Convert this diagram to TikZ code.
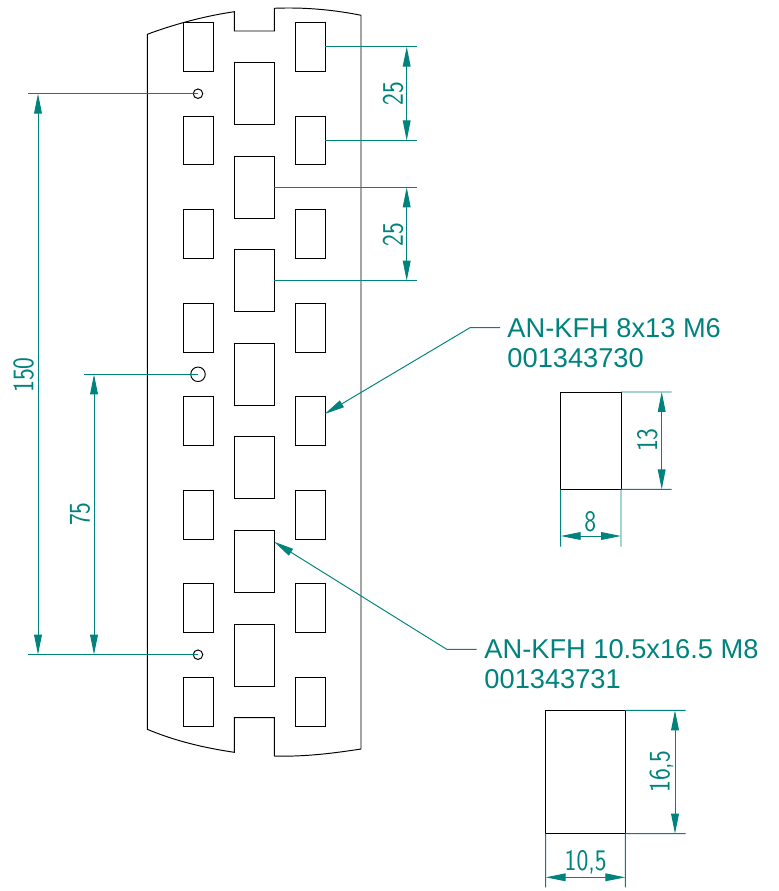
\documentclass[tikz,border=0pt]{standalone}
\usepackage{xcolor}
\usepackage{fontspec}
\usetikzlibrary{arrows.meta}
\setmainfont{Liberation Sans}
\newfontfamily\dimfont[FakeStretch=0.84]{Latin Modern Sans}
\definecolor{dimteal}{RGB}{0,130,125}

\begin{document}
\begin{tikzpicture}[x = 0.02cm, y = -0.02cm, line width = 0.55pt, >={Triangle[length=0.4cm,width=0.155cm]},
    sidehole/.style = {draw, inner sep=0, outer sep=0, minimum width = 0.6cm, minimum height = 0.976cm},
    midhole/.style = {draw, inner sep=0, outer sep=0, minimum width = 0.8cm, minimum height = 1.24cm},
    pin/.style = {draw, circle, inner sep=0, outer sep=0, minimum size = 0.19cm},
    bigpin/.style = {draw, circle, inner sep=0, outer sep=0, minimum size = 0.29cm},
    extline/.style = {draw=dimteal, line width = 0.55pt},
    dimline/.style = {draw=dimteal, line width = 0.55pt, <->},
    dimtext/.style = {text=dimteal, inner sep=0, font = \dimfont\fontsize{17}{17}\selectfont},
    labeltext/.style = {text=dimteal, inner sep=0, anchor=base west, font = \fontsize{15.5}{17}\selectfont}]
  \useasboundingbox (0,0) rectangle (778,891);

  %%% rail outline %%%
  \draw (147.3,729.3) -- (147.3,34.3) .. controls (175,24) and (205,16) .. (234.3,11.7)
    -- (234.3,31) -- (274.3,31) -- (274.3,8.3) .. controls (305,7) and (335,10) .. (361,15.3)
    -- (361,749) .. controls (335,753) and (305,757) .. (274.3,756)
    -- (274.3,717.7) -- (234.3,717.7) -- (234.3,752.3)
    .. controls (205,748) and (175,741) .. (147.3,729.3);

  %%% holes %%%
  % left column
  \node[sidehole] (l1) at (198.3,46.7) {};
  \node[sidehole] (l2) at (198.3,140.4) {};
  \node[sidehole] (l3) at (198.3,234.1) {};
  \node[sidehole] (l4) at (198.3,327.7) {};
  \node[sidehole] (l5) at (198.3,421.1) {};
  \node[sidehole] (l6) at (198.3,514.7) {};
  \node[sidehole] (l7) at (198.3,608.2) {};
  \node[sidehole] (l8) at (198.3,702) {};
  % middle column
  \node[midhole] (m1) at (254.3,93.3) {};
  \node[midhole] (m2) at (254.3,187.4) {};
  \node[midhole] (m3) at (254.3,280.7) {};
  \node[midhole] (m4) at (254.3,374.3) {};
  \node[midhole] (m5) at (254.3,467.7) {};
  \node[midhole] (m6) at (254.3,561.3) {};
  \node[midhole] (m7) at (254.3,655.2) {};
  % right column
  \node[sidehole] (r1) at (310.3,46.7) {};
  \node[sidehole] (r2) at (310.3,140.4) {};
  \node[sidehole] (r3) at (310.3,234.1) {};
  \node[sidehole] (r4) at (310.3,327.7) {};
  \node[sidehole] (r5) at (310.3,421.1) {};
  \node[sidehole] (r6) at (310.3,514.7) {};
  \node[sidehole] (r7) at (310.3,608.2) {};
  \node[sidehole] (r8) at (310.3,702) {};
  % pins
  \node[pin] (p1) at (198,93.7) {};
  \node[bigpin] (p2) at (198,374.3) {};
  \node[pin] (p3) at (198,654.7) {};

  %%% pitch dimensions %%%
  % upper 25
  \coordinate (a1) at (416.7,46.7);
  \coordinate (a2) at (416.7,140.4);
  \coordinate (a3) at (406.7,46.7);
  \coordinate (a4) at (406.7,140.4);
  \draw[extline] (r1.east) -- (a1);
  \draw[extline] (r2.east) -- (a2);
  \draw[dimline] (a3) -- (a4);
  \node[dimtext, rotate=90] (t25a) at (393,93.5) {25};
  % lower 25
  \coordinate (b1) at (416.7,187.4);
  \coordinate (b2) at (416.7,280.7);
  \coordinate (b3) at (406.7,187.4);
  \coordinate (b4) at (406.7,280.7);
  \draw[extline] (m2.east) -- (b1);
  \draw[extline] (m3.east) -- (b2);
  \draw[dimline] (b3) -- (b4);
  \node[dimtext, rotate=90] (t25b) at (393,234.5) {25};
  % 150
  \coordinate (c1) at (27.7,93.7);
  \coordinate (c2) at (27.7,654.7);
  \coordinate (c3) at (38,93.7);
  \coordinate (c4) at (38,654.7);
  \draw[extline] (p1.center) -- (c1);
  \draw[extline] (p3.center) -- (c2);
  \draw[dimline] (c3) -- (c4);
  \node[dimtext, rotate=90] (t150) at (23.5,375) {150};
  % 75
  \coordinate (d1) at (84,374.3);
  \coordinate (d2) at (94,374.3);
  \coordinate (d3) at (94,654.7);
  \draw[extline] (p2.center) -- (d1);
  \draw[dimline] (d2) -- (d3);
  \node[dimtext, rotate=90] (t75) at (80,514) {75};

  %%% M6 nut %%%
  \node[labeltext] (nuta) at (507,337.5) {AN-KFH 8x13 M6};
  \node[labeltext] (nutb) at (507,367) {001343730};
  \coordinate (e1) at (500,327.7);
  \coordinate (e2) at (470,327.7);
  \coordinate (e3) at (324.7,414);
  \draw[extline, ->] (e1) -- (e2) -- (e3);
  % cut-out with its sizes
  \node[draw, inner sep=0, outer sep=0, minimum width = 1.206cm, minimum height = 1.946cm] (sq) at (590.85,440.65) {};
  \coordinate (f1) at (671.7,392);
  \coordinate (f2) at (671.7,489.3);
  \coordinate (f3) at (661.7,392);
  \coordinate (f4) at (661.7,489.3);
  \draw[extline] (sq.north east) -- (f1);
  \draw[extline] (sq.south east) -- (f2);
  \draw[dimline] (f3) -- (f4);
  \node[dimtext, rotate=90] (t13) at (647.3,440) {13};
  \coordinate (f5) at (560.7,546.7);
  \coordinate (f6) at (621,546.7);
  \coordinate (f7) at (560.7,536);
  \coordinate (f8) at (621,536);
  \draw[extline] (sq.south west) -- (f5);
  \draw[extline] (sq.south east) -- (f6);
  \draw[dimline] (f7) -- (f8);
  \node[dimtext] (t8) at (590.3,521.7) {8};

  %%% M8 nut %%%
  \node[labeltext] (nutc) at (484,658.3) {AN-KFH 10.5x16.5 M8};
  \node[labeltext] (nutd) at (484,688.3) {001343731};
  \coordinate (g1) at (476.7,649.3);
  \coordinate (g2) at (446.7,649.3);
  \coordinate (g3) at (274,541.7);
  \draw[extline, ->] (g1) -- (g2) -- (g3);
  % cut-out with its sizes
  \node[draw, inner sep=0, outer sep=0, minimum width = 1.592cm, minimum height = 2.468cm] (bq) at (585.5,772) {};
  \coordinate (h1) at (685.7,710.3);
  \coordinate (h2) at (685.7,833.7);
  \coordinate (h3) at (675,710.3);
  \coordinate (h4) at (675,833.7);
  \draw[extline] (bq.north east) -- (h1);
  \draw[extline] (bq.south east) -- (h2);
  \draw[dimline] (h3) -- (h4);
  \node[dimtext, rotate=90] (t165) at (661.5,771.7) {16,5};
  \coordinate (h5) at (545.7,887.3);
  \coordinate (h6) at (625.3,887.3);
  \coordinate (h7) at (545.7,877.3);
  \coordinate (h8) at (625.3,877.3);
  \draw[extline] (bq.south west) -- (h5);
  \draw[extline] (bq.south east) -- (h6);
  \draw[dimline] (h7) -- (h8);
  \node[dimtext] (t105) at (585.7,862.5) {10,5};
\end{tikzpicture}
\end{document}
